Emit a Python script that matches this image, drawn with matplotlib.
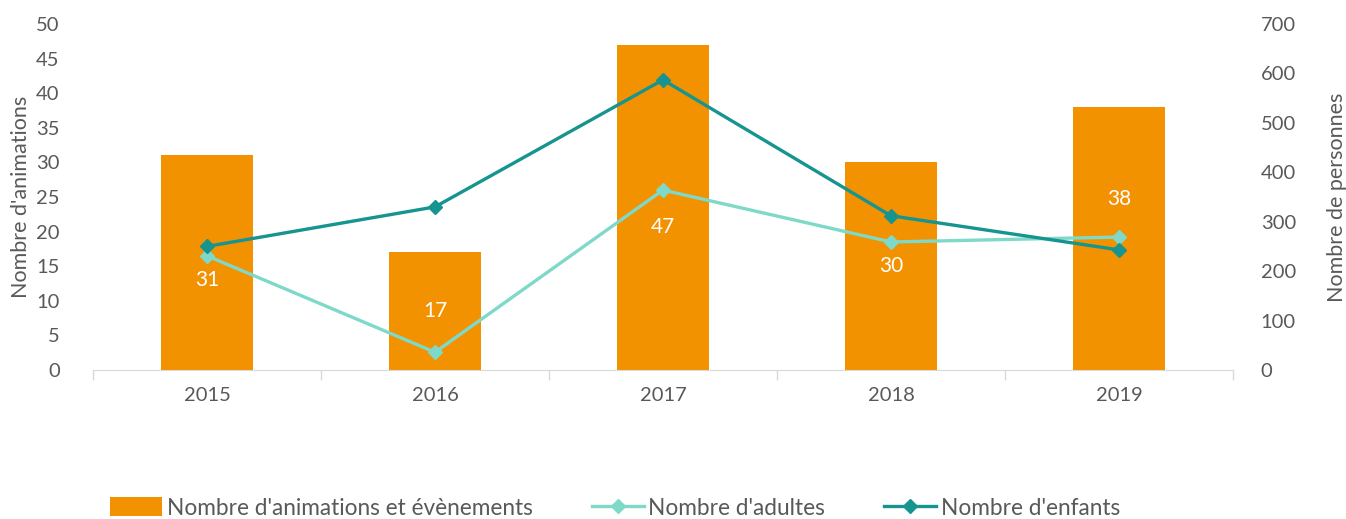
import matplotlib
matplotlib.use("Agg")
import matplotlib.pyplot as plt
import numpy as np

plt.rcParams['font.family'] = ['Lato', 'DejaVu Sans']

years = ['2015', '2016', '2017', '2018', '2019']
animations = [31, 17, 47, 30, 38]
adultes = [231, 36, 364, 259, 269]
enfants = [250, 330, 587, 312, 243]

# where the value label sits inside each bar (fraction of bar height)
label_frac = [0.42, 0.5, 0.44, 0.5, 0.65]

orange = '#F39200'
light_teal = '#7FD9C9'
dark_teal = '#16948F'
grey = '#595959'

fig = plt.figure(figsize=(13.46, 5.19), dpi=100)
ax = fig.add_axes([93 / 1346, 1 - 370 / 519, 1140 / 1346, 346 / 519])
ax2 = ax.twinx()

x = np.arange(len(years))
bars = ax.bar(x, animations, 0.4, color=orange, label="Nombre d'animations et évènements", zorder=1)
for xi, v, f in zip(x, animations, label_frac):
    ax.text(xi, v * f, str(v), ha='center', va='center', color='white', fontsize=15)

ax2.plot(x, adultes, color=light_teal, lw=2.4, marker='D', ms=7.5, label="Nombre d'adultes")
ax2.plot(x, enfants, color=dark_teal, lw=2.4, marker='D', ms=7.5, label="Nombre d'enfants")

ax.set_xlim(-0.5, 4.5)
ax.set_ylim(0, 50)
ax.set_yticks(range(0, 51, 5))
ax2.set_ylim(0, 700)
ax2.set_yticks(range(0, 701, 100))

# category separators below the axis
ax.set_xticks(x)
ax.set_xticklabels(years)
ax.set_xticks(np.arange(-0.5, 5, 1), minor=True)
ax.tick_params(axis='x', which='major', length=0, pad=12, labelsize=14.5, labelcolor=grey)
ax.tick_params(axis='x', which='minor', length=7, color='#D9D9D9', width=1)
ax.tick_params(axis='y', length=0, labelsize=14.5, labelcolor=grey, pad=24)
ax2.tick_params(axis='y', length=0, labelsize=14.5, labelcolor=grey, pad=20)

for a in (ax, ax2):
    for s in ['top', 'left', 'right']:
        a.spines[s].set_visible(False)
ax2.spines['bottom'].set_visible(False)
ax.spines['bottom'].set_color('#D9D9D9')

ax.set_ylabel("Nombre d'animations", fontsize=15.5, color=grey, labelpad=4)
ax2.set_ylabel("Nombre de personnes", fontsize=15.5, color=grey, labelpad=22)

h1, l1 = ax.get_legend_handles_labels()
h2, l2 = ax2.get_legend_handles_labels()
fig.legend(h1 + h2, l1 + l2, loc='center', bbox_to_anchor=(615 / 1346, 1 - 508 / 519),
           ncol=3, frameon=False, fontsize=16.3, labelcolor=grey, handlelength=2.3,
           handletextpad=0.2, columnspacing=2.6, handleheight=0.9)

fig.savefig('out.png', dpi=100)
